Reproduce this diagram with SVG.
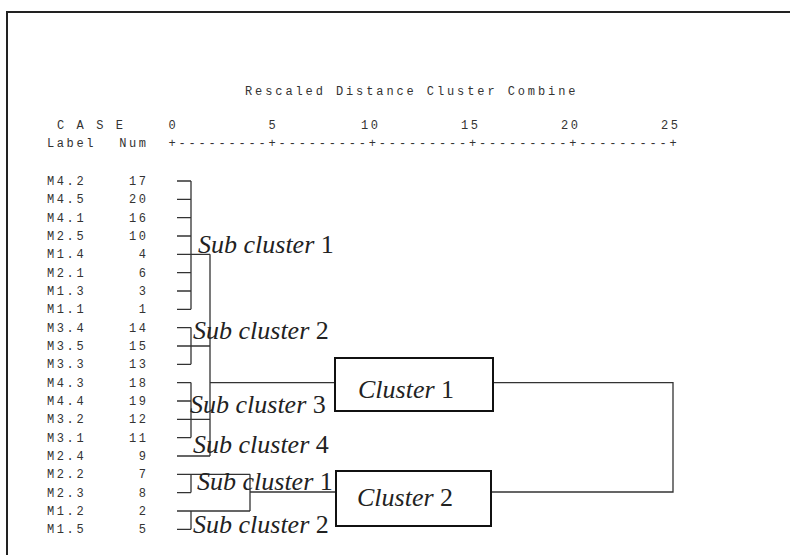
<svg xmlns="http://www.w3.org/2000/svg" width="790" height="555" viewBox="0 0 790 555">
<style>
.mono{font-family:"Liberation Mono","Courier New",monospace;font-size:12px;fill:#333;letter-spacing:2.6px}
.num{text-anchor:end}
.sub{font-family:"Liberation Serif","Times New Roman",serif;font-size:26px;fill:#222}
.it{font-style:italic}
.ln{stroke:#333;stroke-width:1.3;fill:none}
.box{stroke:#111;stroke-width:2;fill:#fff}
</style>
<rect width="790" height="555" fill="#fff"/>
<path d="M7,560 V12 H800" stroke="#222" stroke-width="2" fill="none"/>
<g id="header">
<text class="mono" x="245" y="95" style="letter-spacing:2.9px">Rescaled Distance Cluster Combine</text>
<text class="mono" x="57" y="129" style="letter-spacing:2.6px">C A S E</text>
<text class="mono" x="47" y="147">Label</text>
<text class="mono num" x="148.6" y="147">Num</text>
<text class="mono" x="168.4" y="129">0</text>
<text class="mono" x="268.4" y="129">5</text>
<text class="mono" x="361" y="129">10</text>
<text class="mono" x="461" y="129">15</text>
<text class="mono" x="561" y="129">20</text>
<text class="mono" x="661" y="129">25</text>
<text class="mono" x="168.4" y="147" style="letter-spacing:2.82px">+---------+---------+---------+---------+---------+</text>
</g>
<g id="cases">
<text class="mono" x="47" y="185">M4.2</text><text class="mono num" x="148.6" y="185">17</text>
<text class="mono" x="47" y="203.3">M4.5</text><text class="mono num" x="148.6" y="203.3">20</text>
<text class="mono" x="47" y="221.7">M4.1</text><text class="mono num" x="148.6" y="221.7">16</text>
<text class="mono" x="47" y="240">M2.5</text><text class="mono num" x="148.6" y="240">10</text>
<text class="mono" x="47" y="258.3">M1.4</text><text class="mono num" x="148.6" y="258.3">4</text>
<text class="mono" x="47" y="276.7">M2.1</text><text class="mono num" x="148.6" y="276.7">6</text>
<text class="mono" x="47" y="295">M1.3</text><text class="mono num" x="148.6" y="295">3</text>
<text class="mono" x="47" y="313.3">M1.1</text><text class="mono num" x="148.6" y="313.3">1</text>
<text class="mono" x="47" y="331.6">M3.4</text><text class="mono num" x="148.6" y="331.6">14</text>
<text class="mono" x="47" y="350">M3.5</text><text class="mono num" x="148.6" y="350">15</text>
<text class="mono" x="47" y="368.3">M3.3</text><text class="mono num" x="148.6" y="368.3">13</text>
<text class="mono" x="47" y="386.6">M4.3</text><text class="mono num" x="148.6" y="386.6">18</text>
<text class="mono" x="47" y="405">M4.4</text><text class="mono num" x="148.6" y="405">19</text>
<text class="mono" x="47" y="423.3">M3.2</text><text class="mono num" x="148.6" y="423.3">12</text>
<text class="mono" x="47" y="441.6">M3.1</text><text class="mono num" x="148.6" y="441.6">11</text>
<text class="mono" x="47" y="460">M2.4</text><text class="mono num" x="148.6" y="460">9</text>
<text class="mono" x="47" y="478.3">M2.2</text><text class="mono num" x="148.6" y="478.3">7</text>
<text class="mono" x="47" y="496.6">M2.3</text><text class="mono num" x="148.6" y="496.6">8</text>
<text class="mono" x="47" y="515">M1.2</text><text class="mono num" x="148.6" y="515">2</text>
<text class="mono" x="47" y="533.3">M1.5</text><text class="mono num" x="148.6" y="533.3">5</text>
</g>
<g id="connectors">
<path class="ln" d="M177,181H191M177,199.3H191M177,217.7H191M177,236H191M177,254.3H210M177,272.7H191M177,291H191M177,309.3H191M191,181V309.3"/>
<path class="ln" d="M177,327.6H191M177,346H210M177,364.3H191M191,327.6V364.3"/>
<path class="ln" d="M177,382.6H191M177,401H191M177,419.3H210M177,437.6H191M191,382.6V437.6"/>
<path class="ln" d="M177,456H210M210,254.3V456M210,382.6H335"/>
<path class="ln" d="M177,474.3H250M177,492.6H191M191,474.3V492.6M177,511H250M177,529.3H191M191,511V529.3M250,474.3V511M250,492H336"/>
<path class="ln" d="M493,382.6H673V492H491"/>
</g>
<g id="subcluster-labels">
<text class="sub" x="198" y="253"><tspan class="it">Sub cluster</tspan> 1</text>
<text class="sub" x="193" y="339"><tspan class="it">Sub cluster</tspan> 2</text>
<text class="sub" x="190" y="413"><tspan class="it">Sub cluster</tspan> 3</text>
<text class="sub" x="193" y="453"><tspan class="it">Sub cluster</tspan> 4</text>
<text class="sub" x="197" y="490"><tspan class="it">Sub cluster</tspan> 1</text>
<text class="sub" x="193" y="533"><tspan class="it">Sub cluster</tspan> 2</text>
</g>
<g id="cluster1">
<rect class="box" x="335" y="358" width="158" height="53"/>
<text class="sub" x="358" y="398"><tspan class="it">Cluster</tspan> 1</text>
</g>
<g id="cluster2">
<rect class="box" x="336" y="471" width="155" height="55"/>
<text class="sub" x="357" y="506"><tspan class="it">Cluster</tspan> 2</text>
</g>
</svg>
